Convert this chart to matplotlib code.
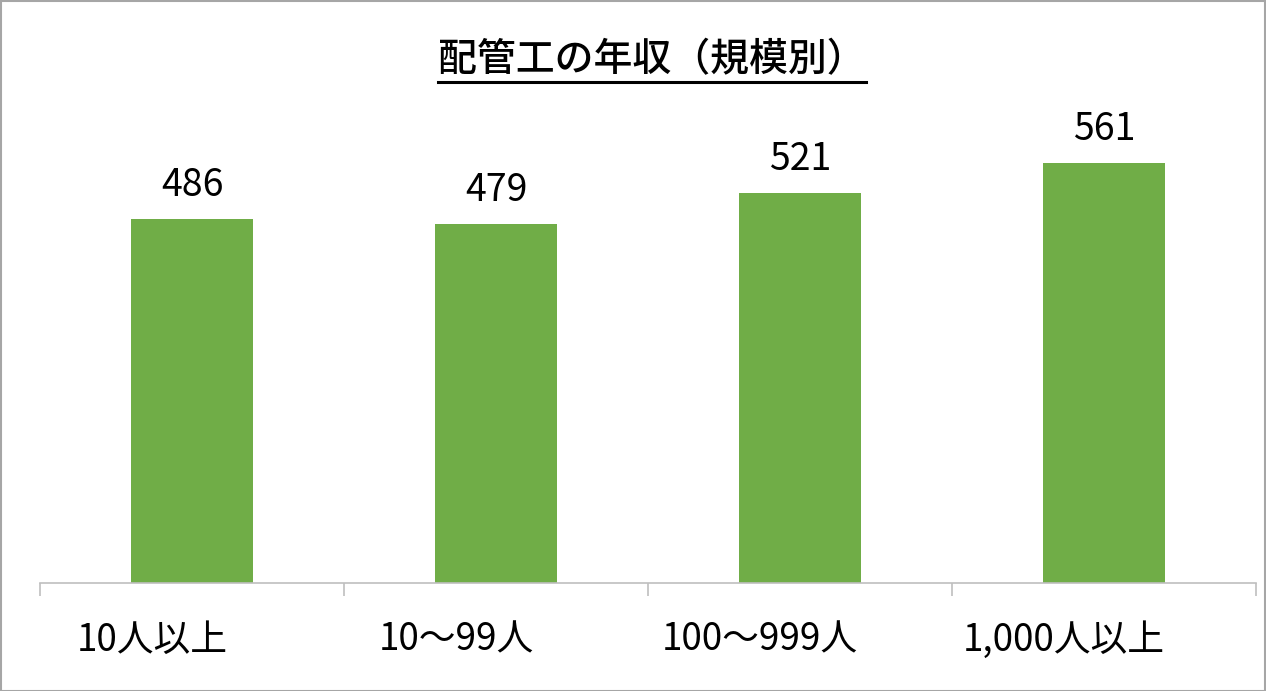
import matplotlib
matplotlib.use('Agg')
import matplotlib.pyplot as plt
import matplotlib.transforms as mtransforms
from matplotlib.lines import Line2D
from matplotlib.patches import Rectangle
import numpy as np

plt.rcParams['font.family'] = ['Noto Sans CJK JP', 'DejaVu Sans']

# データ
categories = ['10人以上', '10～99人', '100～999人', '1,000人以上']
values = [486, 479, 521, 561]
title = '配管工の年収（規模別）'

W, H = 1266, 691
fig = plt.figure(figsize=(W / 100, H / 100), dpi=100)
ax = fig.add_axes([40 / W, 1 - 583 / H, (1256 - 40) / W, (583 - 133.6) / H])

x = np.arange(len(categories))
ax.bar(x, values, width=0.4, color='#70AD47')
for xi, v in zip(x, values):
    ax.annotate(str(v), (xi, v), xytext=(0, 10), textcoords='offset points',
                ha='center', va='bottom', fontsize=27, color='black')

ax.set_xlim(-0.5, len(categories) - 0.5)
ax.set_ylim(0, 600)
ax.set_yticks([])
for s in ['top', 'left', 'right']:
    ax.spines[s].set_visible(False)
ax.spines['bottom'].set_color('#BFBFBF')
ax.spines['bottom'].set_linewidth(1.2)
ax.set_xticks(x)
ax.set_xticklabels(categories, fontsize=26.5)
ax.tick_params(axis='x', which='major', length=0, pad=27)
ax.set_xticks(np.arange(-0.5, len(categories)), minor=True)
ax.tick_params(axis='x', which='minor', length=9, color='#BFBFBF', width=1.2)
# ラベルを少し左へ
shift = mtransforms.ScaledTranslation(-0.4, 0, fig.dpi_scale_trans)
for lab in ax.get_xticklabels():
    lab.set_transform(lab.get_transform() + shift)

# タイトル（下線付き）
t = fig.text(652 / W, 1 - 60 / H, title, ha='center', va='center', fontsize=28,
             color='black', fontweight='medium')
fig.canvas.draw()
bb = t.get_window_extent(fig.canvas.get_renderer())
uy = 1 - 82 / H
fig.add_artist(Line2D([bb.x0 / W, bb.x1 / W], [uy, uy], color='black', lw=2.2,
                      transform=fig.transFigure))

# 外枠
fig.add_artist(Rectangle((0.5 / W, 0.5 / H), 1 - 1.5 / W, 1 - 1.5 / H, fill=False,
                         edgecolor='#A6A6A6', lw=1.5, transform=fig.transFigure))

fig.savefig('out.png', dpi=100)
